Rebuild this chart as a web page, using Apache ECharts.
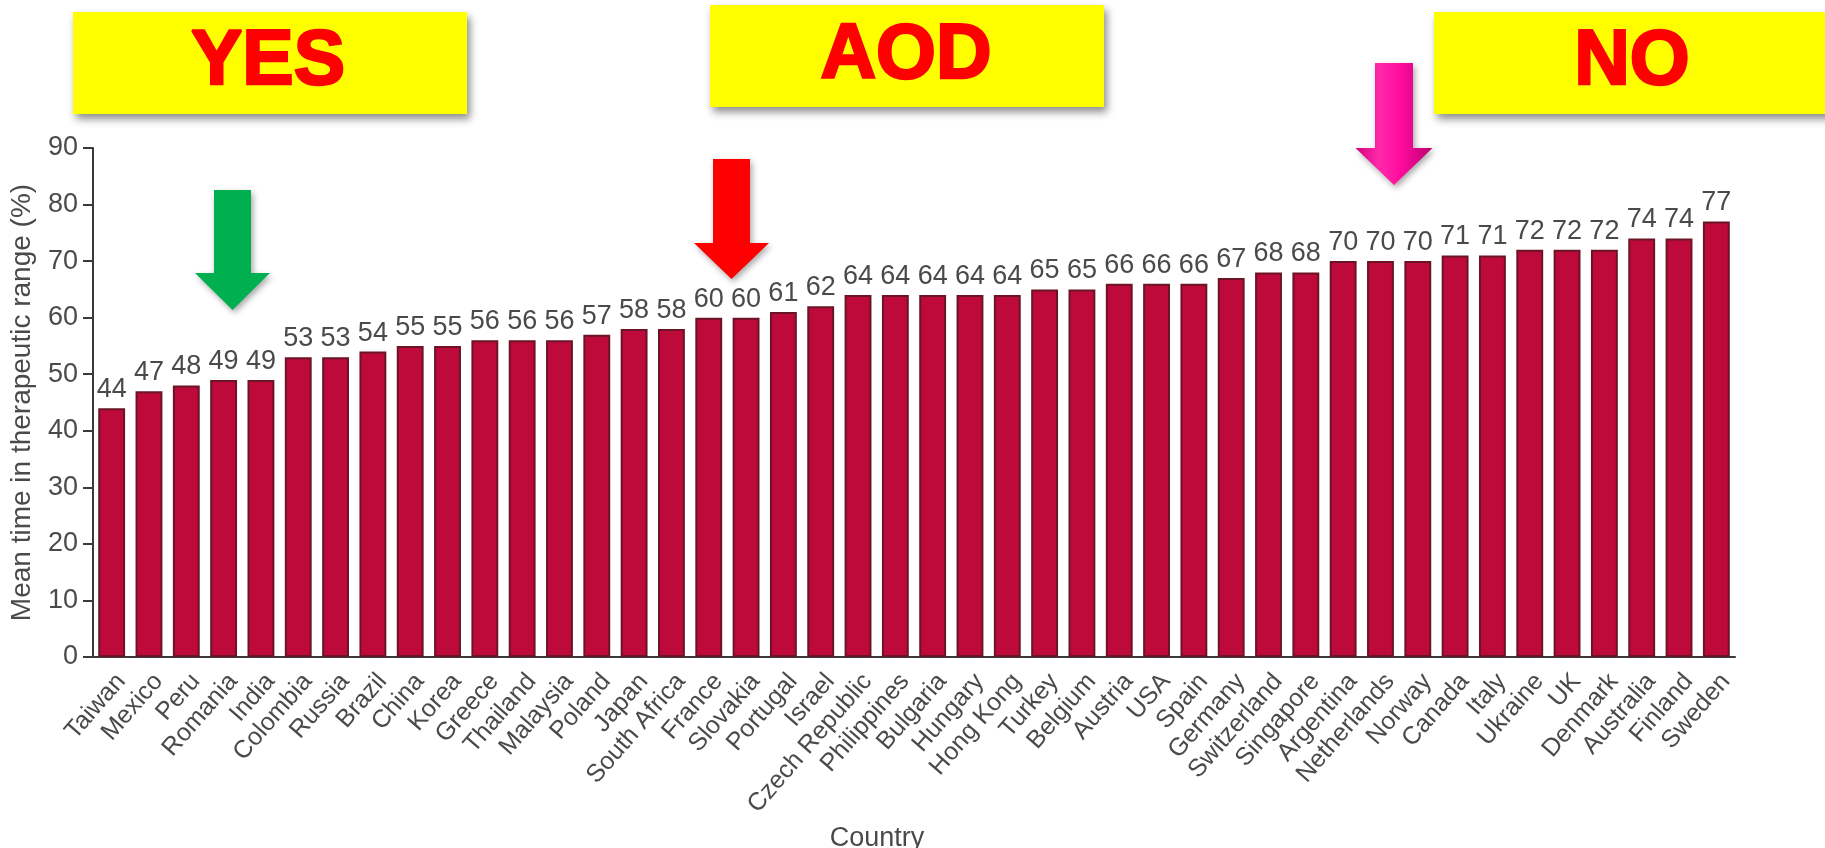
<!DOCTYPE html>
<html>
<head>
<meta charset="utf-8">
<title>Mean time in therapeutic range by country</title>
<script src="https://cdn.jsdelivr.net/npm/echarts@6/dist/echarts.min.js"></script>
<style>
  html, body { margin: 0; padding: 0; background: #fff; }
  #chart { width: 1825px; height: 848px; }
</style>
</head>
<body>
<div id="chart"></div>
<script>
// countries, sorted by mean TTR
const countries = [
  'Taiwan', 'Mexico', 'Peru', 'Romania', 'India', 'Colombia', 'Russia', 'Brazil',
  'China', 'Korea', 'Greece', 'Thailand', 'Malaysia', 'Poland', 'Japan', 'South Africa',
  'France', 'Slovakia', 'Portugal', 'Israel', 'Czech Republic', 'Philippines', 'Bulgaria',
  'Hungary', 'Hong Kong', 'Turkey', 'Belgium', 'Austria', 'USA', 'Spain', 'Germany',
  'Switzerland', 'Singapore', 'Argentina', 'Netherlands', 'Norway', 'Canada', 'Italy',
  'Ukraine', 'UK', 'Denmark', 'Australia', 'Finland', 'Sweden'
];
const meanTTR = [
  44, 47, 48, 49, 49, 53, 53, 54,
  55, 55, 56, 56, 56, 57, 58, 58,
  60, 60, 61, 62, 64, 64, 64,
  64, 64, 65, 65, 66, 66, 66, 67,
  68, 68, 70, 70, 70, 71, 71,
  72, 72, 72, 74, 74, 77
];
const yTicks = [0, 10, 20, 30, 40, 50, 60, 70, 80, 90];
const bannerTexts = ['YES', 'AOD', 'NO'];

const SANS = '"Liberation Sans", Arial, sans-serif';
const AXIS_COLOR = '#3a3a3a';
const TEXT_COLOR = '#4a4a4a';

// banner boxes (x, y, w, h) and where the word sits
const bannerBoxes = [
  { x: 73, y: 12, w: 394, h: 102, tx: 268, ty: 63 },
  { x: 710, y: 5, w: 394, h: 102, tx: 906, ty: 57 },
  { x: 1434, y: 12, w: 400, h: 102, tx: 1632, ty: 63 }
];

function arrow(cx, top, headTop, tip, shaftW, headW, fill) {
  const s = shaftW / 2, h = headW / 2;
  return {
    type: 'polygon',
    z: 100,
    shape: {
      points: [
        [cx - s, top], [cx + s, top], [cx + s, headTop], [cx + h, headTop],
        [cx, tip], [cx - h, headTop], [cx - s, headTop]
      ]
    },
    style: {
      fill: fill,
      shadowBlur: 6,
      shadowColor: 'rgba(0,0,0,0.35)',
      shadowOffsetX: 2,
      shadowOffsetY: 3
    }
  };
}

const pinkFill = new echarts.graphic.LinearGradient(0, 0, 1, 0, [
  { offset: 0, color: '#d4007c' },
  { offset: 0.3, color: '#ff2aaa' },
  { offset: 0.6, color: '#ff0a9c' },
  { offset: 1, color: '#b8006f' }
]);

const graphics = [];
bannerBoxes.forEach((b, i) => {
  graphics.push({
    type: 'rect',
    z: 90,
    shape: { x: b.x, y: b.y, width: b.w, height: b.h },
    style: {
      fill: '#ffff00',
      shadowBlur: 8,
      shadowColor: 'rgba(0,0,0,0.45)',
      shadowOffsetX: 3,
      shadowOffsetY: 5
    }
  });
  graphics.push({
    type: 'text',
    z: 95,
    x: b.tx,
    y: b.ty,
    style: {
      text: bannerTexts[i],
      fill: '#ff0000',
      stroke: '#ff0000',
      lineWidth: 2.5,
      fontSize: 77,
      fontWeight: 'bold',
      fontFamily: SANS,
      align: 'center',
      verticalAlign: 'middle'
    }
  });
});
graphics.push(arrow(232.5, 190, 273, 310, 37, 75, '#00b050'));
graphics.push(arrow(731.5, 159, 243, 279, 37, 75, '#ff0000'));
graphics.push(arrow(1394, 63, 148, 185, 38, 77, pinkFill));

const chart = echarts.init(document.getElementById('chart'));

chart.setOption({
  animation: false,
  backgroundColor: '#ffffff',
  grid: {
    left: 93,
    right: 90,
    top: 148,
    bottom: 191,
    containLabel: false,
    outerBoundsMode: 'none'
  },
  xAxis: {
    type: 'category',
    data: countries,
    name: 'Country',
    nameLocation: 'middle',
    nameGap: 160,
    nameTextStyle: {
      fontFamily: SANS,
      fontSize: 27,
      color: TEXT_COLOR,
      padding: [0, 74, 0, 0]
    },
    axisLine: { lineStyle: { color: AXIS_COLOR, width: 2 } },
    axisTick: {
      alignWithLabel: false,
      length: 16,
      lineStyle: { color: AXIS_COLOR, width: 2 }
    },
    axisLabel: {
      interval: 0,
      rotate: 49,
      margin: 12,
      verticalAlign: 'top',
      fontFamily: SANS,
      fontSize: 25,
      color: TEXT_COLOR
    }
  },
  yAxis: {
    type: 'value',
    min: yTicks[0],
    max: yTicks[yTicks.length - 1],
    interval: yTicks[1] - yTicks[0],
    name: 'Mean time in therapeutic range (%)',
    nameLocation: 'middle',
    nameGap: 57,
    nameTextStyle: {
      fontFamily: SANS,
      fontSize: 28,
      color: TEXT_COLOR
    },
    axisLine: { show: true, lineStyle: { color: AXIS_COLOR, width: 2 } },
    axisTick: { show: true, length: 10, lineStyle: { color: AXIS_COLOR, width: 2 } },
    axisLabel: {
      margin: 15,
      fontFamily: SANS,
      fontSize: 27,
      color: TEXT_COLOR
    },
    splitLine: { show: false }
  },
  series: [{
    type: 'bar',
    data: meanTTR,
    barCategoryGap: '28%',
    itemStyle: {
      color: '#bd0a3b',
      borderColor: '#6a1426',
      borderWidth: 2
    },
    label: {
      show: true,
      position: 'top',
      distance: 5,
      fontFamily: SANS,
      fontSize: 27,
      color: TEXT_COLOR
    }
  }],
  graphic: graphics
});
</script>
</body>
</html>
